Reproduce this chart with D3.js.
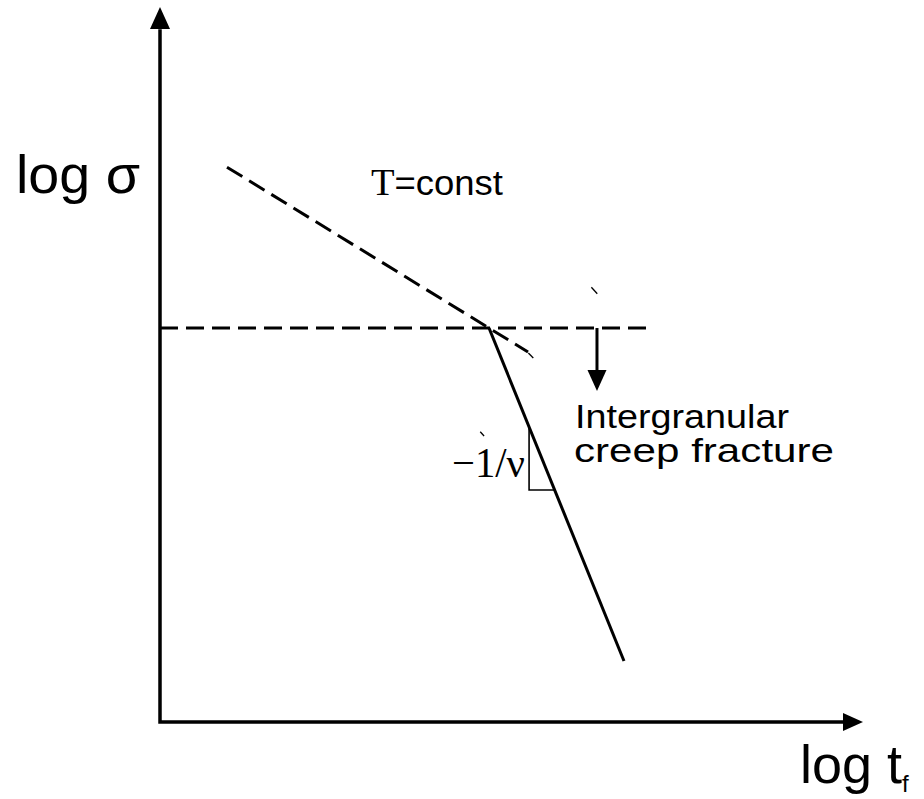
<!DOCTYPE html>
<html>
<head>
<meta charset="utf-8">
<script src="https://cdn.jsdelivr.net/npm/d3@7"></script>
<style>
  html, body { margin: 0; padding: 0; background: #fff; }
  svg { display: block; }
</style>
</head>
<body>
<svg id="chart" width="924" height="799"></svg>
<script>
// Schematic creep-rupture diagram: log stress vs. log time to fracture.
// Coordinates below are in abstract log units (axis origin = 0, arrow tips = 10).

// Power-law creep branch (dashed, falling) and the threshold stress (dashed, flat)
const creepBranch = [[0.953, 7.76], [4.68, 5.51], [5.235, 5.175]];
const thresholdLine = [[0, 5.51], [7.0, 5.51]];
// Intergranular creep fracture branch (solid, steep)
const fractureBranch = [[4.68, 5.51], [6.6, 0.853]];
// Downward arrow below the threshold
const dropArrow = { x: 6.216, from: 5.51, to: 4.63 };
// Slope triangle on the steep branch
const slopeTriangle = { x: 5.25, yBottom: 3.245 };
// Small pen strokes
const strokes = [
  [[6.136, 6.08], [6.22, 5.99]],
  [[5.24, 5.16], [5.31, 5.09]],
  [[4.555, 4.06], [4.61, 4.0]]
];
const labels = {
  yAxis: "log σ",
  xAxis: "log t",
  xSub: "f",
  temp: ["T", "=const"],
  region: ["Intergranular", "creep fracture"],
  slope: "−1/ν"
};

const svg = d3.select("#chart");
const x = d3.scaleLinear().domain([0, 10]).range([160, 863]);
const y = d3.scaleLinear().domain([0, 10]).range([722, 7]);
const line = d3.line().x(d => x(d[0])).y(d => y(d[1]));

// Axes with arrowheads
svg.append("path")
  .attr("d", line([[0, 10 - 0.31], [0, 0], [10 - 0.28, 0]]))
  .attr("fill", "none").attr("stroke", "#000").attr("stroke-width", 3.5)
  .attr("stroke-linejoin", "miter");
svg.append("path")
  .attr("d", d3.line()([[x(0), y(10)], [x(0) - 10, y(10) + 22], [x(0) + 10, y(10) + 22]]) + "Z")
  .attr("fill", "#000");
svg.append("path")
  .attr("d", d3.line()([[x(10), y(0)], [x(10) - 20, y(0) - 9], [x(10) - 20, y(0) + 9]]) + "Z")
  .attr("fill", "#000");

// Dashed branches
svg.append("path").attr("d", line(creepBranch))
  .attr("fill", "none").attr("stroke", "#000").attr("stroke-width", 3)
  .attr("stroke-dasharray", "18,8");
svg.append("path").attr("d", line(thresholdLine))
  .attr("fill", "none").attr("stroke", "#000").attr("stroke-width", 3)
  .attr("stroke-dasharray", "18,8");

// Solid fracture branch
svg.append("path").attr("d", line(fractureBranch))
  .attr("fill", "none").attr("stroke", "#000").attr("stroke-width", 3);

// Down arrow
const headLen = 21;
svg.append("line")
  .attr("x1", x(dropArrow.x)).attr("y1", y(dropArrow.from))
  .attr("x2", x(dropArrow.x)).attr("y2", y(dropArrow.to) - headLen + 2)
  .attr("stroke", "#000").attr("stroke-width", 3);
svg.append("path")
  .attr("d", d3.line()([
    [x(dropArrow.x), y(dropArrow.to)],
    [x(dropArrow.x) - 9.5, y(dropArrow.to) - headLen],
    [x(dropArrow.x) + 9.5, y(dropArrow.to) - headLen]
  ]) + "Z")
  .attr("fill", "#000");

// Slope triangle: vertical leg at slopeTriangle.x, horizontal leg at yBottom,
// both ending on the fracture branch
const [[fx0, fy0], [fx1, fy1]] = fractureBranch;
const k = (fy1 - fy0) / (fx1 - fx0);
const yTop = fy0 + k * (slopeTriangle.x - fx0);
const xRight = fx0 + (slopeTriangle.yBottom - fy0) / k;
svg.append("path")
  .attr("d", line([[slopeTriangle.x, yTop], [slopeTriangle.x, slopeTriangle.yBottom], [xRight, slopeTriangle.yBottom]]))
  .attr("fill", "none").attr("stroke", "#000").attr("stroke-width", 1.6);

// Small strokes
strokes.forEach(s => {
  svg.append("path").attr("d", line(s))
    .attr("fill", "none").attr("stroke", "#000").attr("stroke-width", 1.3);
});

// Labels
const sans = "'Liberation Sans', Arial, sans-serif";
const serif = "'Liberation Serif', 'Times New Roman', serif";

svg.append("text").attr("x", 16).attr("y", 193)
  .attr("font-family", sans).attr("font-size", 54)
  .attr("textLength", 124).attr("lengthAdjust", "spacingAndGlyphs")
  .text(labels.yAxis);

const xl = svg.append("text").attr("x", 800).attr("y", 783)
  .attr("font-family", sans).attr("font-size", 54);
xl.append("tspan").text(labels.xAxis);
xl.append("tspan").attr("font-size", 24).attr("dy", 9).text(labels.xSub);

const tl = svg.append("text").attr("x", 371).attr("y", 195).attr("font-size", 35)
  .attr("textLength", 132).attr("lengthAdjust", "spacingAndGlyphs");
tl.append("tspan").attr("font-family", serif).attr("font-size", 37).text(labels.temp[0]);
tl.append("tspan").attr("font-family", sans).text(labels.temp[1]);

svg.append("text").attr("x", 575).attr("y", 428)
  .attr("font-family", sans).attr("font-size", 33)
  .attr("textLength", 214).attr("lengthAdjust", "spacingAndGlyphs")
  .text(labels.region[0]);
svg.append("text").attr("x", 574).attr("y", 462)
  .attr("font-family", sans).attr("font-size", 33)
  .attr("textLength", 260).attr("lengthAdjust", "spacingAndGlyphs")
  .text(labels.region[1]);

svg.append("text").attr("x", 452).attr("y", 477)
  .attr("font-family", serif).attr("font-size", 42)
  .attr("textLength", 73).attr("lengthAdjust", "spacingAndGlyphs")
  .text(labels.slope);
</script>
</body>
</html>
